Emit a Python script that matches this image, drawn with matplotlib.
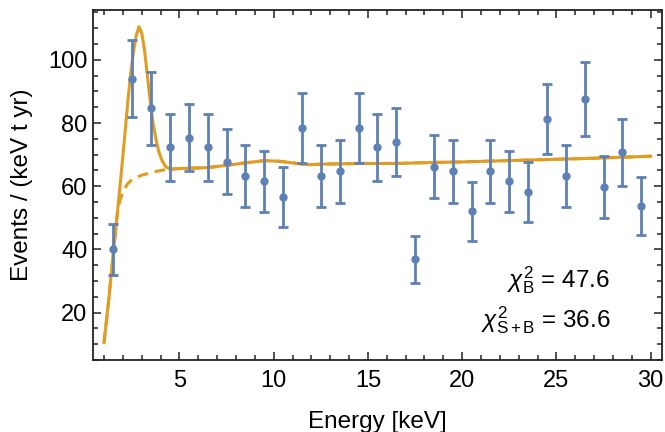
import matplotlib
matplotlib.use("Agg")
import matplotlib.pyplot as plt
import numpy as np
from matplotlib.ticker import MultipleLocator

# --- Data --------------------------------------------------------------------
energy = [1.5, 2.5, 3.5, 4.5, 5.5, 6.5, 7.5, 8.5, 9.5, 10.5,
          11.5, 12.5, 13.5, 14.5, 15.5, 16.5, 17.5, 18.5, 19.5, 20.5,
          21.5, 22.5, 23.5, 24.5, 25.5, 26.5, 27.5, 28.5, 29.5]
rate = [40.0, 94.0, 84.7, 72.3, 75.4, 72.3, 67.8, 63.1, 61.5, 56.6,
        78.4, 63.1, 64.7, 78.4, 72.3, 74.0, 36.9, 66.2, 64.7, 52.0,
        64.7, 61.5, 58.3, 81.3, 63.3, 87.7, 59.9, 70.8, 53.7]
rate_err = [8.0, 12.2, 11.5, 10.6, 10.7, 10.6, 10.4, 9.8, 9.7, 9.5,
            11.1, 9.8, 10.0, 11.1, 10.7, 10.8, 7.5, 10.0, 10.0, 9.2,
            10.0, 9.7, 9.5, 11.2, 9.8, 11.7, 9.8, 10.6, 9.2]

# background-only model (dashed)
bkg_x = [1.0, 1.25, 1.5, 1.7, 1.85, 2.0, 2.25, 2.5, 3.0, 3.5, 4.0, 4.5,
         5.0, 6.5, 7.5, 8.5, 9.5, 10.3, 11.0, 11.8, 12.6, 14.75, 16.5,
         18.3, 20.0, 23.6, 27.2, 30.0]
bkg_y = [10.5, 24.0, 39.0, 51.0, 55.5, 58.3, 60.8, 62.2, 63.5, 64.3, 65.0, 65.4,
         65.6, 65.9, 66.6, 67.4, 68.1, 67.9, 67.4, 66.8, 67.0, 67.2, 67.2,
         67.5, 67.7, 68.3, 68.9, 69.5]

# signal + background model in the peak region (solid), joins bkg above 4.5 keV
peak_x = [1.0, 1.25, 1.5, 1.75, 2.0, 2.25, 2.4, 2.55, 2.7, 2.85, 3.0, 3.15,
          3.3, 3.45, 3.6, 3.75, 3.9, 4.05, 4.25, 4.5]
peak_y = [10.5, 24.0, 39.5, 54.0, 69.5, 86.0, 95.0, 102.0, 107.5, 110.5, 108.5, 103.0,
          95.0, 87.0, 80.0, 75.0, 71.0, 68.5, 66.3, 65.4]

chi2_b = 47.6
chi2_sb = 36.6

# --- Style -------------------------------------------------------------------
BLUE = "#5E81B5"
ORANGE = "#E19C24"
FS = 17.5
plt.rcParams["font.family"] = ["Liberation Sans", "DejaVu Sans"]
plt.rcParams["mathtext.fontset"] = "custom"
plt.rcParams["mathtext.rm"] = "Liberation Sans"
plt.rcParams["mathtext.it"] = "Liberation Sans:italic"

fig = plt.figure(figsize=(6.65, 4.32), dpi=100)
ax = fig.add_axes([0.140, 0.1667, 0.8555, 0.8103])

solid_x = peak_x + [x for x in bkg_x if x > peak_x[-1]]
solid_y = peak_y + [y for x, y in zip(bkg_x, bkg_y) if x > peak_x[-1]]

ax.plot(bkg_x, bkg_y, color=ORANGE, lw=2.2, ls=(0, (3.5, 2.2)), zorder=2)
ax.plot(solid_x, solid_y, color=ORANGE, lw=2.2, zorder=3)
ax.errorbar(energy, rate, yerr=rate_err, fmt="o", color=BLUE, ms=5,
            elinewidth=2.0, capsize=3.3, capthick=2.0, zorder=4)

ax.text(0.909, 0.206, rf"$\chi^2_{{\rm B}}$ = {chi2_b}", transform=ax.transAxes,
        ha="right", va="baseline", fontsize=FS)
ax.text(0.909, 0.094, rf"$\chi^2_{{\rm S+B}}$ = {chi2_sb}", transform=ax.transAxes,
        ha="right", va="baseline", fontsize=FS)

ax.set_xlim(0.42, 30.6)
ax.set_ylim(5.0, 115.8)
ax.xaxis.set_major_locator(MultipleLocator(5))
ax.xaxis.set_minor_locator(MultipleLocator(1))
ax.yaxis.set_major_locator(MultipleLocator(20))
ax.yaxis.set_minor_locator(MultipleLocator(5))
ax.tick_params(which="both", direction="in", top=True, right=True,
               labelsize=17, width=1.1, color="#222222")
ax.tick_params(which="major", length=6)
ax.tick_params(which="minor", length=3.5)
ax.tick_params(axis="x", pad=7)
ax.tick_params(axis="y", pad=4)
for s in ax.spines.values():
    s.set_linewidth(1.3)
    s.set_color("#222222")

ax.set_xlabel("Energy [keV]", fontsize=FS, labelpad=14)
ax.set_ylabel("Events / (keV t yr)", fontsize=FS)
ax.yaxis.set_label_coords(-0.106, 0.5)

fig.savefig("out.png", dpi=100)
